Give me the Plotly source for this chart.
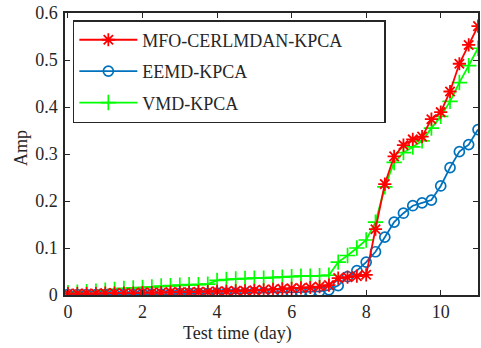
import plotly.graph_objects as go

# Test time (day), sampled every 6 hours
time_days = [i * 0.25 for i in range(45)]

amp_mfo = [0.003, 0.003, 0.003, 0.003, 0.004, 0.004, 0.004, 0.004, 0.005, 0.005,
           0.005, 0.006, 0.006, 0.006, 0.007, 0.007, 0.008, 0.008, 0.009, 0.009,
           0.010, 0.011, 0.012, 0.013, 0.014, 0.015, 0.016, 0.018, 0.021, 0.036,
           0.038, 0.040, 0.043, 0.140, 0.236, 0.295, 0.319, 0.331, 0.337, 0.374,
           0.389, 0.433, 0.492, 0.532, 0.572]

amp_eemd = [0.001, 0.001, 0.001, 0.001, 0.001, 0.001, 0.001, 0.001, 0.002, 0.002,
            0.002, 0.002, 0.003, 0.003, 0.003, 0.003, 0.004, 0.004, 0.004, 0.004,
            0.005, 0.005, 0.005, 0.006, 0.006, 0.006, 0.007, 0.008, 0.011, 0.020,
            0.039, 0.052, 0.070, 0.092, 0.123, 0.155, 0.174, 0.190, 0.196, 0.202,
            0.232, 0.271, 0.305, 0.320, 0.352]

amp_vmd = [0.005, 0.006, 0.007, 0.008, 0.010, 0.012, 0.014, 0.015, 0.016, 0.017,
           0.019, 0.020, 0.021, 0.022, 0.022, 0.023, 0.031, 0.033, 0.034, 0.035,
           0.036, 0.036, 0.037, 0.038, 0.039, 0.040, 0.040, 0.041, 0.042, 0.070,
           0.084, 0.100, 0.117, 0.155, 0.230, 0.282, 0.303, 0.315, 0.328, 0.355,
           0.380, 0.412, 0.452, 0.488, 0.525]

x_ticks = [0, 2, 4, 6, 8, 10]
y_ticks = [0, 0.1, 0.2, 0.3, 0.4, 0.5, 0.6]

FONT = "Liberation Serif, Times New Roman, serif"
AXIS_COLOR = "#262626"
PAD = "\u00a0" * 8  # keeps some room on the right inside the legend box

fig = go.Figure()

# Drawn so that the red series ends up on top
fig.add_trace(go.Scatter(
    x=time_days, y=amp_vmd, name="VMD-KPCA", mode="lines+markers",
    line=dict(color="#00FF00", width=1.8),
    marker=dict(symbol="cross-thin-open", size=11, line=dict(color="#00FF00", width=1.7)),
    legendrank=3, legendgroup="c",
))
fig.add_trace(go.Scatter(
    x=time_days, y=amp_eemd, name="EEMD-KPCA", mode="lines+markers",
    line=dict(color="#0072BD", width=1.8),
    marker=dict(symbol="circle-open", size=10, line=dict(color="#0072BD", width=1.7)),
    legendrank=2, legendgroup="b",
))
fig.add_trace(go.Scatter(
    x=time_days, y=amp_mfo, name="MFO-CERLMDAN-KPCA" + PAD, mode="lines+markers",
    line=dict(color="#FF0000", width=1.8),
    marker=dict(symbol="asterisk-open", size=11, line=dict(color="#FF0000", width=1.8)),
    legendrank=1, legendgroup="a",
))

axis_common = dict(
    showline=True, linecolor=AXIS_COLOR, linewidth=1.5, mirror="allticks",
    ticks="inside", ticklen=5, tickwidth=1, tickcolor=AXIS_COLOR,
    showgrid=False, zeroline=False,
    tickfont=dict(family=FONT, size=18, color="#262626"),
)

fig.update_layout(
    width=481, height=348,
    margin=dict(l=65, r=1, t=13, b=53),
    paper_bgcolor="white", plot_bgcolor="white",
    xaxis=dict(range=[-0.08, 11.0], tickvals=x_ticks, ticktext=[str(v) for v in x_ticks],
               **axis_common),
    yaxis=dict(range=[0, 0.6], tickvals=y_ticks, ticktext=["0", "0.1", "0.2", "0.3", "0.4", "0.5", "0.6"],
               ticklabelstandoff=2, **axis_common),
    showlegend=True,
    legend=dict(
        x=0.019, y=0.975, xanchor="left", yanchor="top",
        bgcolor="white", bordercolor=AXIS_COLOR, borderwidth=1.5,
        font=dict(family=FONT, size=18, color="#262626"),
        traceorder="grouped", tracegroupgap=5, itemwidth=58,
    ),
    annotations=[
        dict(text="Test time (day)", x=4.55, xref="x", y=-0.135, yref="paper",
             xanchor="center", yanchor="middle", showarrow=False,
             font=dict(family=FONT, size=18, color="#262626")),
        dict(text="Amp", x=-0.105, xref="paper", y=0.52, yref="paper",
             xanchor="center", yanchor="middle", showarrow=False, textangle=-90,
             font=dict(family=FONT, size=18, color="#262626")),
    ],
)

fig.write_html("out.html")
